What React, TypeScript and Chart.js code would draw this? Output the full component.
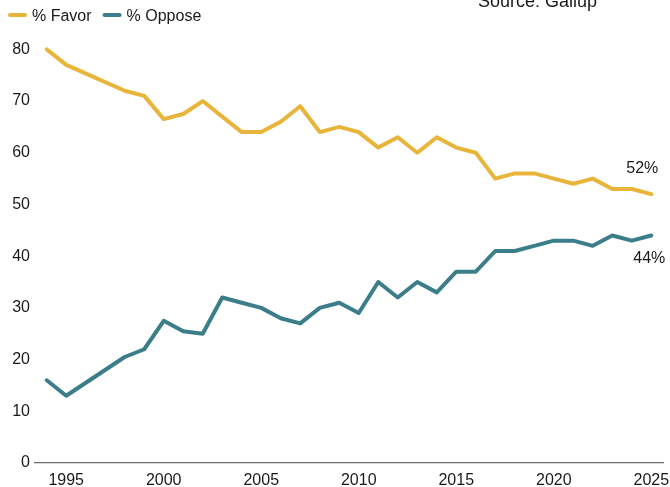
import React, { useEffect, useRef } from "react";
import { Chart, registerables } from "chart.js";

Chart.register(...registerables);

const years = [1994, 1995, 1998, 1999, 2000, 2001, 2002, 2003, 2004, 2005, 2006, 2007, 2008, 2009, 2010, 2011, 2012, 2013, 2014, 2015, 2016, 2017, 2018, 2019, 2020, 2021, 2022, 2023, 2024, 2025];
const favor = [80, 77, 72, 71, 66.5, 67.5, 70, 67, 64, 64, 66, 69, 64, 65, 64, 61, 63, 60, 63, 61, 60, 55, 56, 56, 55, 54, 55, 53, 53, 52];
const oppose = [16, 13, 20.5, 22, 27.5, 25.5, 25, 32, 31, 30, 28, 27, 30, 31, 29, 35, 32, 35, 33, 37, 37, 41, 41, 42, 43, 43, 42, 44, 43, 44];
const xTicks = [1995, 2000, 2005, 2010, 2015, 2020, 2025];
const yTicks = [0, 10, 20, 30, 40, 50, 60, 70, 80];
const seriesLabels = ["% Favor", "% Oppose"];
const sourceText = "Source: Gallup";

const FAVOR_COLOR = "#E8B53A";
const OPPOSE_COLOR = "#3B7E8A";
const FONT = "'Liberation Sans', Arial, sans-serif";
const TEXT_COLOR = "#1a1a1a";

const overlayPlugin = {
  id: "overlay",
  afterDraw(chart: any) {
    const ctx = chart.ctx;
    ctx.save();
    // Legend
    const items = chart.data.datasets;
    let lx = 10;
    ctx.font = `16px ${FONT}`;
    items.forEach((ds: any) => {
      ctx.strokeStyle = ds.borderColor;
      ctx.lineWidth = 4;
      ctx.lineCap = "round";
      ctx.beginPath();
      ctx.moveTo(lx, 15);
      ctx.lineTo(lx + 15, 15);
      ctx.stroke();
      ctx.fillStyle = TEXT_COLOR;
      ctx.textAlign = "left";
      ctx.textBaseline = "middle";
      ctx.fillText(ds.label, lx + 22, 16.5);
      lx += 22 + ctx.measureText(ds.label).width + 13;
    });
    // Source
    ctx.font = `18px ${FONT}`;
    ctx.fillStyle = TEXT_COLOR;
    ctx.textBaseline = "alphabetic";
    ctx.textAlign = "left";
    ctx.fillText(sourceText, 478, 7);
    // End labels
    ctx.font = `16px ${FONT}`;
    ctx.textAlign = "center";
    ctx.textBaseline = "middle";
    const m0 = chart.getDatasetMeta(0).data;
    const m1 = chart.getDatasetMeta(1).data;
    const p0 = m0[m0.length - 1];
    const p1 = m1[m1.length - 1];
    ctx.fillText(`${favor[favor.length - 1]}%`, p0.x - 9, p0.y - 25.5);
    ctx.fillText(`${oppose[oppose.length - 1]}%`, p1.x - 2, p1.y + 23.5);
    ctx.restore();
  },
};

export default function App() {
  const ref = useRef<HTMLCanvasElement>(null);
  useEffect(() => {
    document.body.style.margin = "0";
    const chart = new Chart(ref.current!, {
      type: "line",
      data: {
        datasets: [
          {
            label: seriesLabels[0],
            data: years.map((x, i) => ({ x, y: favor[i] })),
            borderColor: FAVOR_COLOR,
            backgroundColor: FAVOR_COLOR,
            borderWidth: 4,
            pointRadius: 0,
            tension: 0,
            borderJoinStyle: "round",
            borderCapStyle: "round",
          },
          {
            label: seriesLabels[1],
            data: years.map((x, i) => ({ x, y: oppose[i] })),
            borderColor: OPPOSE_COLOR,
            backgroundColor: OPPOSE_COLOR,
            borderWidth: 4,
            pointRadius: 0,
            tension: 0,
            borderJoinStyle: "round",
            borderCapStyle: "round",
          },
        ],
      },
      options: {
        responsive: false,
        animation: false,
        layout: { padding: { top: 39, right: 7, left: 0, bottom: 0 } },
        plugins: { legend: { display: false }, tooltip: { enabled: false } },
        scales: {
          x: {
            type: "linear",
            min: 1993.4,
            max: 2025.6,
            grid: { display: false, drawTicks: false },
            border: { display: true, color: "#6b6b6b", width: 1.3 },
            afterBuildTicks: (axis: any) => {
              axis.ticks = xTicks.map((v) => ({ value: v }));
            },
            afterFit: (axis: any) => {
              axis.height = 24;
              axis.paddingLeft = 0;
              axis.paddingRight = 0;
            },
            ticks: {
              autoSkip: false,
              maxRotation: 0,
              padding: 8,
              color: TEXT_COLOR,
              font: { family: FONT, size: 16 },
              callback: (v: any) => String(v),
            },
          },
          y: {
            min: 0,
            max: 82,
            grid: { display: false, drawTicks: false },
            border: { display: false },
            afterBuildTicks: (axis: any) => {
              axis.ticks = yTicks.map((v) => ({ value: v }));
            },
            afterFit: (axis: any) => {
              axis.width = 35;
              axis.paddingTop = 0;
              axis.paddingBottom = 0;
            },
            ticks: {
              padding: 5,
              color: TEXT_COLOR,
              font: { family: FONT, size: 16 },
              callback: (v: any) => String(v),
            },
          },
        },
      },
      plugins: [overlayPlugin],
    });
    return () => chart.destroy();
  }, []);
  return (
    <div style={{ width: 670, height: 487 }}>
      <canvas ref={ref} width={670} height={487} style={{ display: "block" }} />
    </div>
  );
}
